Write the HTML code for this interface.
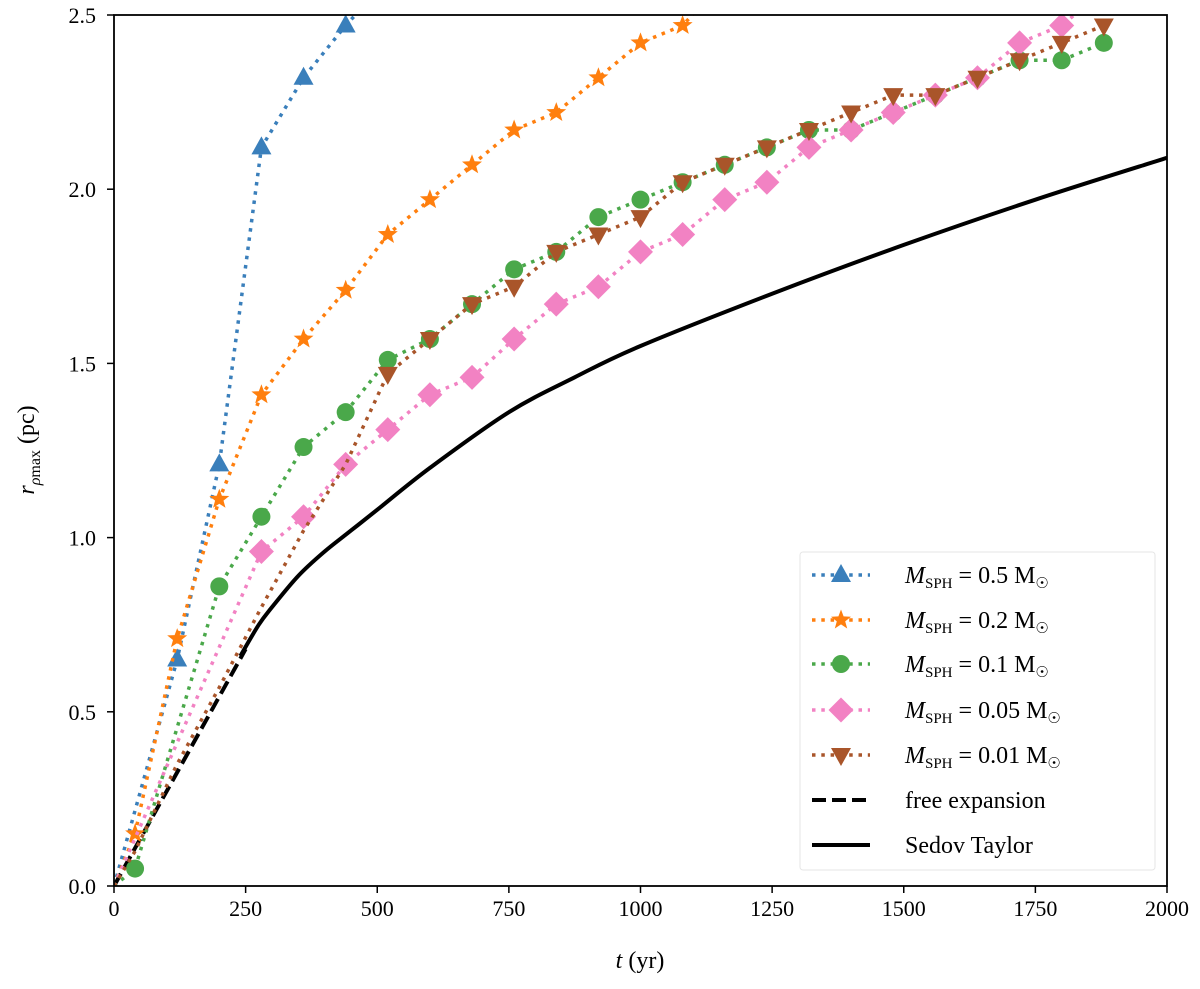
<!DOCTYPE html>
<html><head><meta charset="utf-8"><style>
body{margin:0;background:#fff}
svg text{font-family:"Liberation Serif",serif;fill:#000}
</style></head><body>
<svg id="chart" width="1200" height="984" xmlns="http://www.w3.org/2000/svg">
<defs><clipPath id="plotclip"><rect x="114" y="15" width="1053" height="871"/></clipPath></defs>
<g id="plot" clip-path="url(#plotclip)"></g>
<rect x="114" y="15" width="1053" height="871" fill="none" stroke="#000" stroke-width="1.8"/>
<g id="axes"></g>
<text x="640" y="968" font-size="24" text-anchor="middle"><tspan font-style="italic">t</tspan> (yr)</text>
<text transform="translate(34,450) rotate(-90)" font-size="24" text-anchor="middle"><tspan font-style="italic">r</tspan><tspan font-size="16" dy="6"><tspan font-style="italic">ρ</tspan>max</tspan><tspan dy="-6"> (pc)</tspan></text>
<rect x="800" y="552" width="355" height="318" fill="#fff" fill-opacity="0.8" stroke="#e6e6e6" rx="3"/>
<g id="legend"></g>
</svg>
<script>
const blueT=[0,120,200,280,360,440,520];
const blueR=[0,0.65,1.21,2.12,2.32,2.47,2.6];
const orangeT=[0,40,120,200,280,360,440,520,600,680,760,840,920,1000,1080,1160];
const orangeR=[0,0.15,0.71,1.11,1.41,1.57,1.71,1.87,1.97,2.07,2.17,2.22,2.32,2.42,2.47,2.6];
const greenT=[0,40,200,280,360,440,520,600,680,760,840,920,1000,1080,1160,1240,1320,1400,1480,1560,1640,1720,1800,1880];
const greenR=[0,0.05,0.86,1.06,1.26,1.36,1.51,1.57,1.67,1.77,1.82,1.92,1.97,2.02,2.07,2.12,2.17,2.17,2.22,2.27,2.32,2.37,2.37,2.42];
const pinkT=[0,280,360,440,520,600,680,760,840,920,1000,1080,1160,1240,1320,1400,1480,1560,1640,1720,1800,1880];
const pinkR=[0,0.96,1.06,1.21,1.31,1.41,1.46,1.57,1.67,1.72,1.82,1.87,1.97,2.02,2.12,2.17,2.22,2.27,2.32,2.42,2.47,2.57];
const brownT=[0,40,120,200,280,360,440,520,600,680,760,840,920,1000,1080,1160,1240,1320,1400,1480,1560,1640,1720,1800,1880];
const brownR=[0,0.1,0.35,0.57,0.8,1.02,1.21,1.47,1.57,1.67,1.72,1.82,1.87,1.92,2.02,2.07,2.12,2.17,2.22,2.27,2.27,2.32,2.37,2.42,2.47];
const freeT=[0,250];
const freeR=[0,0.68];
const sedovT=[240,275,300,350,400,450,500,600,750,875,1000,1250,1500,1750,2000];
const sedovR=[0.66,0.75,0.8,0.89,0.96,1.02,1.08,1.2,1.36,1.46,1.55,1.7,1.84,1.97,2.09];
const xTicks=[0,250,500,750,1000,1250,1500,1750,2000];
const yTicks=[0,0.5,1.0,1.5,2.0,2.5];
const legendLabels=["0.5","0.2","0.1","0.05","0.01"];

const NS="http://www.w3.org/2000/svg";
const X=t=>114+t*1053/2000;
const Y=r=>886-r*348.4;
function mk(tag,attrs,parent){const e=document.createElementNS(NS,tag);for(const k in attrs)e.setAttribute(k,attrs[k]);parent.appendChild(e);return e;}
const plot=document.getElementById('plot'),axes=document.getElementById('axes'),legend=document.getElementById('legend');

function marker(kind,cx,cy,col,parent){
  let e;
  if(kind==='circle'){e=mk('circle',{cx:cx,cy:cy,r:9,fill:col},parent);}
  else if(kind==='tri'){e=mk('polygon',{points:`${cx},${cy-11} ${cx+10},${cy+7} ${cx-10},${cy+7}`,fill:col},parent);}
  else if(kind==='tridown'){e=mk('polygon',{points:`${cx},${cy+11} ${cx+10},${cy-7} ${cx-10},${cy-7}`,fill:col},parent);}
  else if(kind==='diamond'){e=mk('polygon',{points:`${cx},${cy-12.5} ${cx+12.5},${cy} ${cx},${cy+12.5} ${cx-12.5},${cy}`,fill:col},parent);}
  else {let p=[];for(let i=0;i<10;i++){const a=-Math.PI/2+i*Math.PI/5,rr=i%2?4.4:10.5;p.push((cx+rr*Math.cos(a)).toFixed(1)+','+(cy+rr*Math.sin(a)).toFixed(1));}
    e=mk('polygon',{points:p.join(' '),fill:col},parent);}
  return e;
}
function spline(pts){
  let d='M'+pts[0][0]+','+pts[0][1];
  for(let i=0;i<pts.length-1;i++){
    const p0=pts[Math.max(0,i-1)],p1=pts[i],p2=pts[i+1],p3=pts[Math.min(pts.length-1,i+2)];
    const c1=[p1[0]+(p2[0]-p0[0])/6,p1[1]+(p2[1]-p0[1])/6];
    const c2=[p2[0]-(p3[0]-p1[0])/6,p2[1]-(p3[1]-p1[1])/6];
    d+=` C${c1[0].toFixed(1)},${c1[1].toFixed(1)} ${c2[0].toFixed(1)},${c2[1].toFixed(1)} ${p2[0].toFixed(1)},${p2[1].toFixed(1)}`;
  }
  return d;
}
const series=[
 {t:blueT,r:blueR,c:'#3a7fbb',m:'tri',from:1,name:'series-0-5'},
 {t:orangeT,r:orangeR,c:'#ff7f0e',m:'star',from:1,name:'series-0-2'},
 {t:greenT,r:greenR,c:'#4aa84a',m:'circle',from:1,name:'series-0-1'},
 {t:pinkT,r:pinkR,c:'#f282c3',m:'diamond',from:1,name:'series-0-05'},
 {t:brownT,r:brownR,c:'#a9552a',m:'tridown',from:7,name:'series-0-01'}];
let pl=mk('path',{d:spline(sedovT.map((t,i)=>[X(t),Y(sedovR[i])])),fill:'none',stroke:'#000','stroke-width':4},plot);


pl=mk('polyline',{points:freeT.map((t,i)=>X(t)+','+Y(freeR[i])).join(' '),fill:'none',stroke:'#000','stroke-width':4,'stroke-dasharray':'14 6'},plot);


series.forEach(s=>{
  const g=mk('g',{},plot);
  
  
  mk('polyline',{points:s.t.map((t,i)=>X(t)+','+Y(s.r[i])).join(' '),fill:'none',stroke:s.c,'stroke-width':3.5,'stroke-dasharray':'3.5 5.8'},g);
  s.t.forEach((t,i)=>{if(i<s.from)return;const e=marker(s.m,X(t),Y(s.r[i]),s.c,g);
    
    });
});
xTicks.forEach(v=>{mk('line',{x1:X(v),x2:X(v),y1:886,y2:893,stroke:'#000','stroke-width':1.5},axes);
  const t=mk('text',{x:X(v),y:916,'font-size':22,'text-anchor':'middle'},axes);t.textContent=v;
  
  });
yTicks.forEach(v=>{mk('line',{x1:107,x2:114,y1:Y(v),y2:Y(v),stroke:'#000','stroke-width':1.5},axes);
  const t=mk('text',{x:96,y:Y(v)+8,'font-size':22,'text-anchor':'end'},axes);t.textContent=v.toFixed(1);
  
  });
const ly=[575,620,664,710,755,800,845];
series.forEach((s,i)=>{
  const g=mk('g',{},legend);
  
  
  mk('line',{x1:812,x2:870,y1:ly[i],y2:ly[i],stroke:s.c,'stroke-width':3.5,'stroke-dasharray':'3.5 5.8'},g);
  marker(s.m,841,ly[i],s.c,g);
  const t=mk('text',{x:905,y:ly[i]+8,'font-size':24},g);
  t.innerHTML='<tspan font-style="italic">M</tspan><tspan font-size="15" dy="5">SPH</tspan><tspan dy="-5"> = '+legendLabels[i]+' M</tspan><tspan font-size="15" dy="5">☉</tspan>';
});
[['free expansion','14 6',5],['Sedov Taylor','',6]].forEach(([lab,d,i])=>{
  const g=mk('g',{},legend);
  
  
  const l=mk('line',{x1:812,x2:870,y1:ly[i],y2:ly[i],stroke:'#000','stroke-width':4},g);
  if(d)l.setAttribute('stroke-dasharray',d);
  const t=mk('text',{x:905,y:ly[i]+8,'font-size':24},g);t.textContent=lab;
});
</script>
</body></html>
